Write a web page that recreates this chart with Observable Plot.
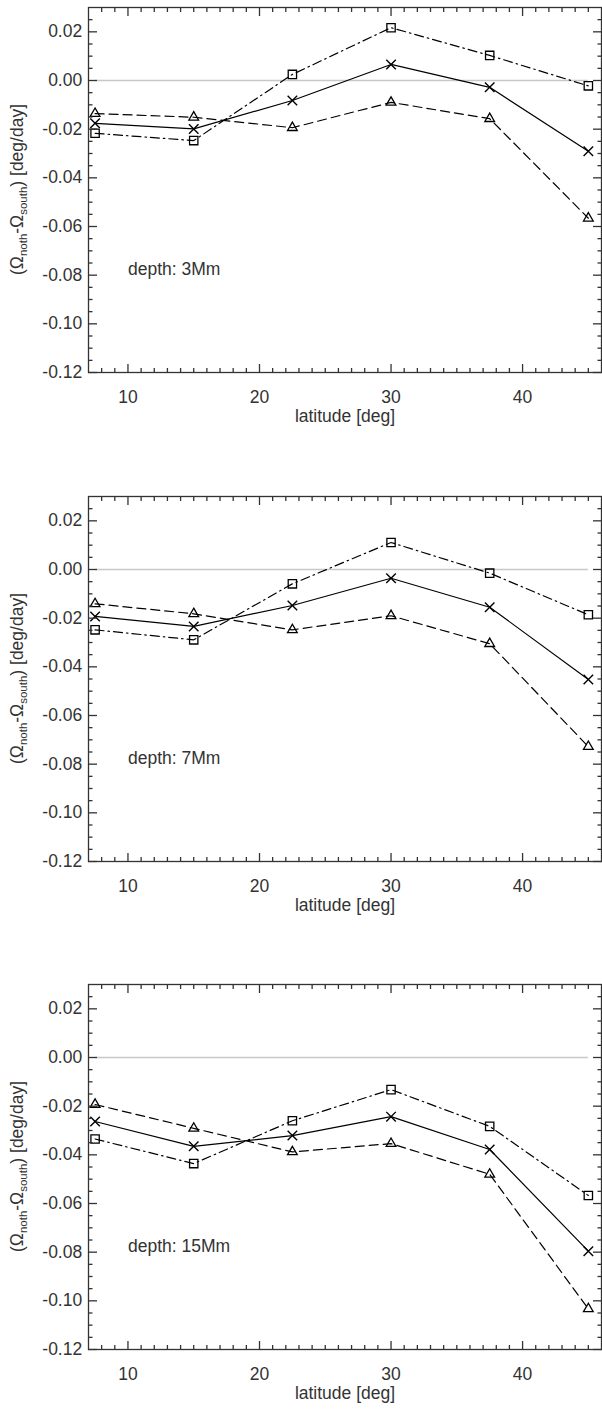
<!DOCTYPE html>
<html>
<head>
<meta charset="utf-8">
<script src="https://cdn.jsdelivr.net/npm/d3@7"></script>
<script src="https://cdn.jsdelivr.net/npm/@observablehq/plot@0.6"></script>
<style>
  body { margin: 0; background: #fff; }
  svg { display: block; }
</style>
</head>
<body>
<div id="chart"></div>
<script>
// ---- data ----
const latitude = [7.5, 15, 22.5, 30, 37.5, 45];
const depthLabels = ["depth: 3Mm", "depth: 7Mm", "depth: 15Mm"];

// solid line, "x" markers
const crossSeries = [
  [-0.0176, -0.0199, -0.0082, 0.0066, -0.0028, -0.0291],
  [-0.0193, -0.0234, -0.0148, -0.0036, -0.0155, -0.0452],
  [-0.0263, -0.0365, -0.0321, -0.0243, -0.0378, -0.0796]
];
// dashed line, triangle markers
const triangleSeries = [
  [-0.0136, -0.0151, -0.0194, -0.0090, -0.0157, -0.0566],
  [-0.0141, -0.0182, -0.0248, -0.0190, -0.0305, -0.0728],
  [-0.0193, -0.0291, -0.0388, -0.0354, -0.0480, -0.1033]
];
// dash-dot line, square markers
const squareSeries = [
  [-0.0217, -0.0247, 0.0025, 0.0217, 0.0103, -0.0022],
  [-0.0248, -0.0289, -0.0059, 0.0111, -0.0015, -0.0186],
  [-0.0335, -0.0436, -0.0260, -0.0132, -0.0283, -0.0567]
];

const xMajor = [10, 20, 30, 40];
const xMinor = [8, 9, 11, 12, 13, 14, 15, 16, 17, 18, 19, 21, 22, 23, 24, 25, 26, 27, 28, 29,
                31, 32, 33, 34, 35, 36, 37, 38, 39, 41, 42, 43, 44, 45];
const yMajor = [-0.12, -0.10, -0.08, -0.06, -0.04, -0.02, 0.00, 0.02];
const yMinor = [-0.115, -0.11, -0.105, -0.095, -0.09, -0.085, -0.075, -0.07, -0.065,
                -0.055, -0.05, -0.045, -0.035, -0.03, -0.025, -0.015, -0.01, -0.005,
                0.005, 0.01, 0.015, 0.025];
const xDomain = [7, 46];
const yDomain = [-0.12, 0.03];
const xLabel = "latitude [deg]";
const yLabelParts = ["(Ω", "noth", "-Ω", "south", ") [deg/day]"];

// ---- layout ----
const W = 602, ML = 88, MR = 1, PH = 365;
const panelLayout = [
  {height: 488, top: 7},
  {height: 488, top: 8},
  {height: 436, top: 8}
];
const ink = "#333";
const FS = 17.5;
const tickStyle = {stroke: ink, strokeWidth: 1.3};

const chart = document.getElementById("chart");

panelLayout.forEach((lay, p) => {
  const rows = latitude.map((lat, i) => ({
    lat, cross: crossSeries[p][i], tri: triangleSeries[p][i], sq: squareSeries[p][i]
  }));
  const mb = lay.height - lay.top - PH;
  const svg = Plot.plot({
    width: W,
    height: lay.height,
    marginLeft: ML,
    marginRight: MR,
    marginTop: lay.top,
    marginBottom: mb,
    style: {fontFamily: "'Liberation Sans', Arial, Helvetica, sans-serif", fontSize: FS + "px", color: ink, background: "#fff", overflow: "visible"},
    x: {domain: xDomain, label: null},
    y: {domain: yDomain, label: null},
    marks: [
      Plot.ruleY([0], {x1: latitude[0], x2: latitude[latitude.length - 1], stroke: "#c8c8c8", strokeWidth: 1.5}),
      Plot.line(rows, {x: "lat", y: "tri", stroke: "#000", strokeWidth: 1.2, strokeDasharray: "9,5"}),
      Plot.line(rows, {x: "lat", y: "sq", stroke: "#000", strokeWidth: 1.2, strokeDasharray: "9,4,1.5,4"}),
      Plot.line(rows, {x: "lat", y: "cross", stroke: "#000", strokeWidth: 1.2}),
      Plot.dot(rows, {x: "lat", y: "tri", symbol: "triangle", r: 3.6, stroke: "#000", fill: "none", strokeWidth: 1.3}),
      Plot.dot(rows, {x: "lat", y: "sq", symbol: "square", r: 4.7, stroke: "#000", fill: "none", strokeWidth: 1.3}),
      Plot.dot(rows, {x: "lat", y: "cross", symbol: "times", r: 4.4, stroke: "#000", fill: "none", strokeWidth: 1.4}),
      // inward ticks on all four sides (axis marks with negative tick size)
      Plot.axisX(xMajor, {anchor: "bottom", tickSize: -8, text: null, ...tickStyle}),
      Plot.axisX(xMinor, {anchor: "bottom", tickSize: -4, text: null, ...tickStyle}),
      Plot.axisX(xMajor, {anchor: "top", tickSize: -8, text: null, ...tickStyle}),
      Plot.axisX(xMinor, {anchor: "top", tickSize: -4, text: null, ...tickStyle}),
      Plot.axisY(yMajor, {anchor: "left", tickSize: -9, text: null, ...tickStyle}),
      Plot.axisY(yMinor, {anchor: "left", tickSize: -4.5, text: null, ...tickStyle}),
      Plot.axisY(yMajor, {anchor: "right", tickSize: -9, text: null, ...tickStyle}),
      Plot.axisY(yMinor, {anchor: "right", tickSize: -4.5, text: null, ...tickStyle}),
      Plot.frame({stroke: ink, strokeWidth: 1.3}),
      Plot.axisX(xMajor, {anchor: "bottom", tickSize: 0, tickPadding: 18.5, tickFormat: d => String(d), label: null, fill: ink}),
      Plot.axisY(yMajor, {anchor: "left", tickSize: 0, tickPadding: 6.3, tickFormat: d => d.toFixed(2), label: null, fill: ink}),
      Plot.text([xLabel], {text: d => d, frameAnchor: "bottom", dy: 49.5, fill: ink, fontSize: FS}),
      Plot.text([depthLabels[p]], {text: d => d, x: 10, y: -0.0775, textAnchor: "start", fill: ink, fontSize: FS})
    ]
  });

  // y-axis title with subscripts
  const t = d3.select(svg).append("text")
    .attr("transform", `translate(23,${lay.top + PH / 2}) rotate(-90)`)
    .attr("text-anchor", "middle")
    .attr("fill", ink)
    .attr("font-size", FS);
  t.append("tspan").text(yLabelParts[0]);
  t.append("tspan").attr("dy", 4).attr("font-size", 11.5).text(yLabelParts[1]);
  t.append("tspan").attr("dy", -4).text(yLabelParts[2]);
  t.append("tspan").attr("dy", 4).attr("font-size", 11.5).text(yLabelParts[3]);
  t.append("tspan").attr("dy", -4).text(yLabelParts[4]);

  chart.appendChild(svg);
});
</script>
</body>
</html>
